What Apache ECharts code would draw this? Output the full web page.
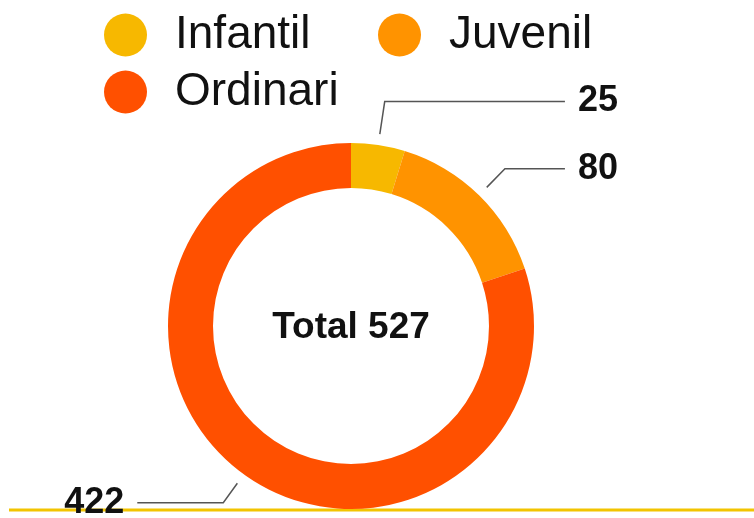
<!DOCTYPE html>
<html>
<head>
<meta charset="utf-8">
<script src="https://cdn.jsdelivr.net/npm/echarts@6/dist/echarts.min.js"></script>
<style>
html,body{margin:0;padding:0;background:#fff;}
#chart{width:754px;height:518px;}
</style>
</head>
<body>
<div id="chart"></div>
<script>
// data
var categories = ['Infantil', 'Juvenil', 'Ordinari'];
var values = [25, 80, 422];
var colors = ['#F7B800', '#FF9300', '#FF5000'];

var total = values.reduce(function(a, b){ return a + b }, 0);
var font = 'Liberation Sans, Arial, Helvetica, sans-serif';

// label line tweaks per slice (index -> labelLine)
var lineTweaks = {
    0: {length: 33},
    2: {length: 24, length2: 86}
};

var ringData = categories.map(function(name, i){
    return {name: name, value: values[i], itemStyle: {color: colors[i]}};
});
var labelData = categories.map(function(name, i){
    var d = {name: name, value: values[i]};
    if(lineTweaks[i]) d.labelLine = lineTweaks[i];
    return d;
});

function makeLegend(names, left){
    return {
        data: names,
        orient: 'vertical',
        left: left,
        top: 12,
        padding: 0,
        itemGap: 11,
        itemWidth: 43,
        itemHeight: 43,
        icon: 'circle',
        selectedMode: false,
        textStyle: {
            fontSize: 46,
            fontFamily: font,
            color: '#111',
            padding: [0, 0, 0, 23]
        }
    };
}

var chart = echarts.init(document.getElementById('chart'));
var options = {
    animation: false,
    legend: [
        makeLegend([categories[0], categories[2]], 104),
        makeLegend([categories[1]], 378)
    ],
    graphic: [
        {
            type: 'line',
            z: -1,
            shape: {x1: 9, y1: 510, x2: 754, y2: 510},
            style: {stroke: '#F2C400', lineWidth: 3}
        },
        {
            type: 'text',
            x: 351,
            y: 328,
            style: {
                text: 'Total ' + total,
                fontSize: 37,
                fontWeight: 'bold',
                fontFamily: font,
                fill: '#111',
                textAlign: 'center',
                textVerticalAlign: 'middle'
            }
        }
    ],
    series: [
        {
            type: 'pie',
            left: 0, top: 0, right: 0, bottom: -60,
            center: [351, 326],
            radius: [138, 183],
            startAngle: 90,
            label: {show: false},
            labelLine: {show: false},
            emphasis: {disabled: true},
            data: ringData
        },
        {
            type: 'pie',
            left: 0, top: 0, right: 0, bottom: -60,
            center: [351, 326],
            radius: [190, 194],
            startAngle: 90,
            silent: true,
            legendHoverLink: false,
            itemStyle: {color: 'rgba(0,0,0,0)'},
            emphasis: {disabled: true},
            label: {
                show: true,
                formatter: '{c}',
                fontSize: 36,
                fontWeight: 'bold',
                fontFamily: font,
                color: '#111',
                alignTo: 'labelLine',
                distanceToLabelLine: 13
            },
            labelLine: {
                show: true,
                length: 26,
                length2: 60,
                lineStyle: {color: '#555', width: 1.5}
            },
            data: labelData
        }
    ]
};
chart.setOption(options);
</script>
</body>
</html>
